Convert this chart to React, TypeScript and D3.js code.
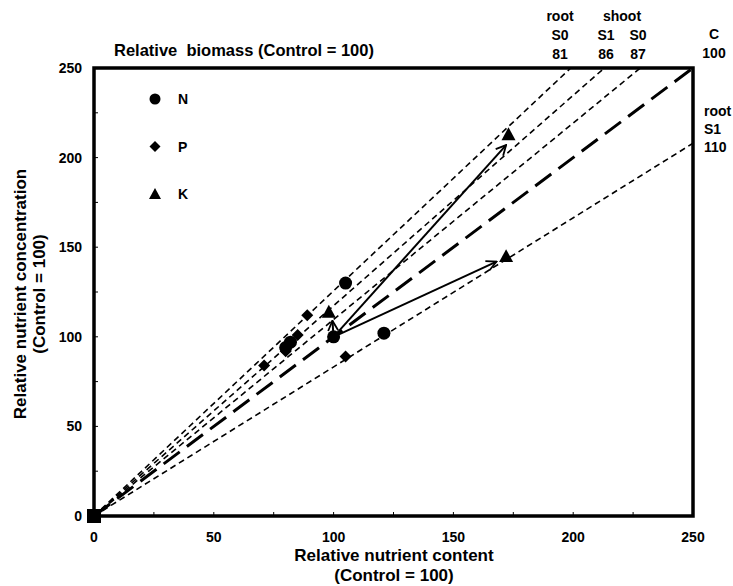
import React from 'react';
import * as d3 from 'd3';

// values
const axisTicks = [0, 50, 100, 150, 200, 250];
const minorTicks = [25, 75, 125, 175, 225];

const nPoints = [[100, 100], [105, 130], [121, 102], [82, 97], [80, 94]];
const pPoints = [[89, 112], [85, 101], [80, 92], [71, 84], [105, 89]];
const kPoints = [[98, 114], [173, 213], [172, 145]];
const originPoints = [[0, 0]];

// biomass lines: end point where each one leaves the plot
const biomassLines = [
  { name: 'root S0', end: [199, 250], kind: 'short' },
  { name: 'shoot S1', end: [213, 250], kind: 'short' },
  { name: 'shoot S0', end: [228, 250], kind: 'short' },
  { name: 'C', end: [250, 250], kind: 'long' },
  { name: 'root S1', end: [250, 208], kind: 'short' },
];

const arrows = [
  { from: [100, 100], to: [172, 207] },
  { from: [100, 100], to: [168, 142] },
  { from: [100, 100], to: [99.5, 109] },
];

const legendItems = ['N', 'P', 'K'];

const FONT = 'Liberation Sans, Arial, sans-serif';

const circle = (cx, cy, r) => <circle cx={cx} cy={cy} r={r} fill="black" />;
const diamond = (cx, cy, s) => (
  <path d={`M${cx},${cy - s}L${cx + s},${cy}L${cx},${cy + s}L${cx - s},${cy}Z`} fill="black" />
);
const triangle = (cx, cy, s) => (
  <path d={`M${cx},${cy - s}L${cx + s},${cy + s * 0.85}L${cx - s},${cy + s * 0.85}Z`} fill="black" />
);

export default function App() {
  const x = d3.scaleLinear().domain([0, 250]).range([94, 693]);
  const y = d3.scaleLinear().domain([0, 250]).range([516, 68]);

  const line = d3.line().x(d => x(d[0])).y(d => y(d[1]));

  return (
    <svg width={733} height={586} style={{ position: 'absolute', left: 0, top: 0, background: 'white' }}
      fontFamily={FONT} fontWeight="bold">
      <defs>
        <marker id="arr" viewBox="0 0 12 12" refX="11" refY="6" markerWidth="12" markerHeight="12"
          markerUnits="userSpaceOnUse" orient="auto">
          <path d="M1,1L11,6L1,11" fill="none" stroke="black" strokeWidth="1.8" />
        </marker>
      </defs>

      {/* biomass reference lines */}
      {biomassLines.map(l => (
        <path key={l.name} d={line([[0, 0], l.end])} fill="none" stroke="black"
          strokeWidth={l.kind === 'long' ? 3 : 1.6}
          strokeDasharray={l.kind === 'long' ? '20 9' : '6 4'} />
      ))}

      {/* arrows */}
      {arrows.map((a, i) => (
        <path key={i} d={line([a.from, a.to])} stroke="black" strokeWidth={2} fill="none" markerEnd="url(#arr)" />
      ))}

      {/* points */}
      {nPoints.map((p, i) => <g key={'n' + i}>{circle(x(p[0]), y(p[1]), 6.5)}</g>)}
      {pPoints.map((p, i) => <g key={'p' + i}>{diamond(x(p[0]), y(p[1]), 6)}</g>)}
      {kPoints.map((p, i) => <g key={'k' + i}>{triangle(x(p[0]), y(p[1]), 7)}</g>)}
      {originPoints.map((p, i) => (
        <rect key={'o' + i} x={x(p[0]) - 7} y={y(p[1]) - 7} width={14} height={14} fill="black" />
      ))}

      {/* frame */}
      <rect x={x(0)} y={y(250)} width={x(250) - x(0)} height={y(0) - y(250)} fill="none" stroke="black" strokeWidth={3.5} />

      {/* ticks */}
      {axisTicks.concat(minorTicks).map(t => (
        <g key={'t' + t}>
          <line x1={x(t)} x2={x(t)} y1={y(0)} y2={y(0) - 4} stroke="black" strokeWidth={1} />
          <line x1={x(0)} x2={x(0) + 4} y1={y(t)} y2={y(t)} stroke="black" strokeWidth={1} />
        </g>
      ))}
      {axisTicks.map(t => (
        <g key={'l' + t} fontSize={14}>
          <text x={x(t)} y={542} textAnchor="middle">{t}</text>
          <text x={82} y={y(t) + 5} textAnchor="end">{t}</text>
        </g>
      ))}

      {/* axis titles */}
      <text x={394} y={561} textAnchor="middle" fontSize={17}>Relative nutrient content</text>
      <text x={394} y={581} textAnchor="middle" fontSize={17}>(Control = 100)</text>
      <g transform="translate(26,294) rotate(-90)">
        <text textAnchor="middle" fontSize={17}>Relative nutrient concentration</text>
      </g>
      <g transform="translate(45,294) rotate(-90)">
        <text textAnchor="middle" fontSize={17}>(Control = 100)</text>
      </g>

      <text x={114} y={56} fontSize={16.5} style={{ whiteSpace: 'pre' }}>Relative  biomass (Control = 100)</text>

      {/* biomass labels */}
      <g fontSize={14} textAnchor="middle">
        <text x={560} y={21}>root</text>
        <text x={560} y={40}>S0</text>
        <text x={560} y={59}>81</text>
        <text x={622} y={21}>shoot</text>
        <text x={606} y={40}>S1</text>
        <text x={638} y={40}>S0</text>
        <text x={606} y={59}>86</text>
        <text x={638} y={59}>87</text>
        <text x={714} y={39}>C</text>
        <text x={714} y={58}>100</text>
      </g>
      <g fontSize={14}>
        <text x={704} y={116}>root</text>
        <text x={704} y={134}>S1</text>
        <text x={704} y={152}>110</text>
      </g>

      {/* legend */}
      {legendItems.map((name, i) => {
        const cy = 99 + i * 47.5;
        return (
          <g key={name}>
            {i === 0 && circle(155, cy, 5.5)}
            {i === 1 && diamond(155, cy, 5.5)}
            {i === 2 && triangle(155, cy, 6)}
            <text x={178} y={cy + 5} fontSize={14}>{name}</text>
          </g>
        );
      })}
    </svg>
  );
}
